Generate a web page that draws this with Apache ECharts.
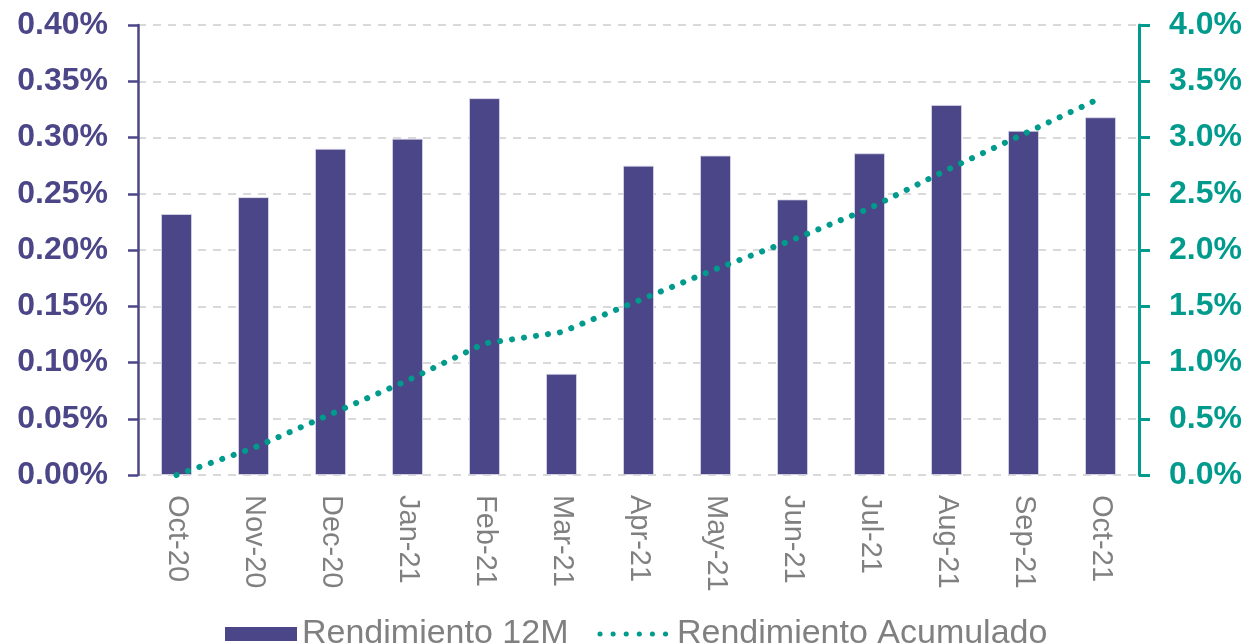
<!DOCTYPE html>
<html>
<head>
<meta charset="utf-8">
<title>Rendimiento</title>
<script src="https://cdn.jsdelivr.net/npm/echarts@6/dist/echarts.min.js"></script>
<style>
  html, body { margin: 0; padding: 0; background: #fff; }
  #chart { width: 1248px; height: 643px; }
</style>
</head>
<body>
<div id="chart"></div>
<script>
// meses
const months = ['Oct-20', 'Nov-20', 'Dec-20', 'Jan-21', 'Feb-21', 'Mar-21', 'Apr-21',
  'May-21', 'Jun-21', 'Jul-21', 'Aug-21', 'Sep-21', 'Oct-21']

// rendimiento 12M (%), eje izquierdo
const rend12m = [0.232, 0.247, 0.290, 0.299, 0.335, 0.090, 0.275,
  0.284, 0.245, 0.286, 0.329, 0.306, 0.318]

// rendimiento acumulado (%), eje derecho
const rendAcum = [0.00, 0.24, 0.54, 0.84, 1.17, 1.27, 1.55,
  1.83, 2.09, 2.37, 2.71, 3.03, 3.35]

const purple = '#4b4687'
const teal = '#009b8c'
const gray = '#808080'
const font = 'Liberation Sans, Arial, sans-serif'

const chart = echarts.init(document.getElementById('chart'))

const option = {
  animation: false,
  grid: {
    left: 138,
    right: 109,
    top: 25,
    bottom: 168
  },
  legend: {
    left: 220,
    top: 612,
    itemWidth: 72,
    itemHeight: 14,
    itemGap: 29,
    textStyle: {
      color: gray,
      fontSize: 34,
      fontFamily: font
    },
    data: [
      { name: 'Rendimiento 12M', icon: 'rect', itemStyle: { borderWidth: 0 } },
      {
        name: 'Rendimiento Acumulado',
        itemStyle: { opacity: 0 },
        lineStyle: { width: 5, type: [0.1, 13], cap: 'round' }
      }
    ]
  },
  xAxis: {
    type: 'category',
    data: months,
    axisLine: { show: false },
    axisTick: { show: false },
    axisLabel: {
      rotate: -90,
      margin: 20,
      interval: 0,
      color: gray,
      fontSize: 29,
      fontFamily: font
    }
  },
  yAxis: [
    {
      type: 'value',
      min: 0,
      max: 0.4,
      interval: 0.05,
      axisLine: { show: true, lineStyle: { color: purple, width: 2.5 } },
      axisTick: { show: true, length: 10, lineStyle: { color: purple, width: 2.5 } },
      axisLabel: {
        margin: 30,
        color: purple,
        fontSize: 32,
        fontWeight: 'bold',
        fontFamily: font,
        formatter: v => v.toFixed(2) + '%'
      },
      splitLine: {
        lineStyle: { color: '#d9d9d9', width: 2, type: [8, 7] }
      }
    },
    {
      type: 'value',
      min: 0,
      max: 4,
      interval: 0.5,
      position: 'right',
      axisLine: { show: true, lineStyle: { color: teal, width: 3 } },
      axisTick: { show: true, length: 11, lineStyle: { color: teal, width: 3 } },
      axisLabel: {
        margin: 30,
        color: teal,
        fontSize: 32,
        fontWeight: 'bold',
        fontFamily: font,
        formatter: v => v.toFixed(1) + '%'
      },
      splitLine: { show: false }
    }
  ],
  series: [
    {
      name: 'Rendimiento 12M',
      type: 'bar',
      data: rend12m,
      yAxisIndex: 0,
      barWidth: 31,
      itemStyle: {
        color: purple,
        borderColor: 'rgba(220, 218, 235, 0.8)',
        borderWidth: 1
      }
    },
    {
      name: 'Rendimiento Acumulado',
      type: 'line',
      data: rendAcum,
      yAxisIndex: 1,
      showSymbol: false,
      z: 3,
      lineStyle: {
        color: teal,
        width: 6,
        type: [0.1, 12],
        cap: 'round'
      },
      itemStyle: { color: teal }
    }
  ]
}

chart.setOption(option)
</script>
</body>
</html>
